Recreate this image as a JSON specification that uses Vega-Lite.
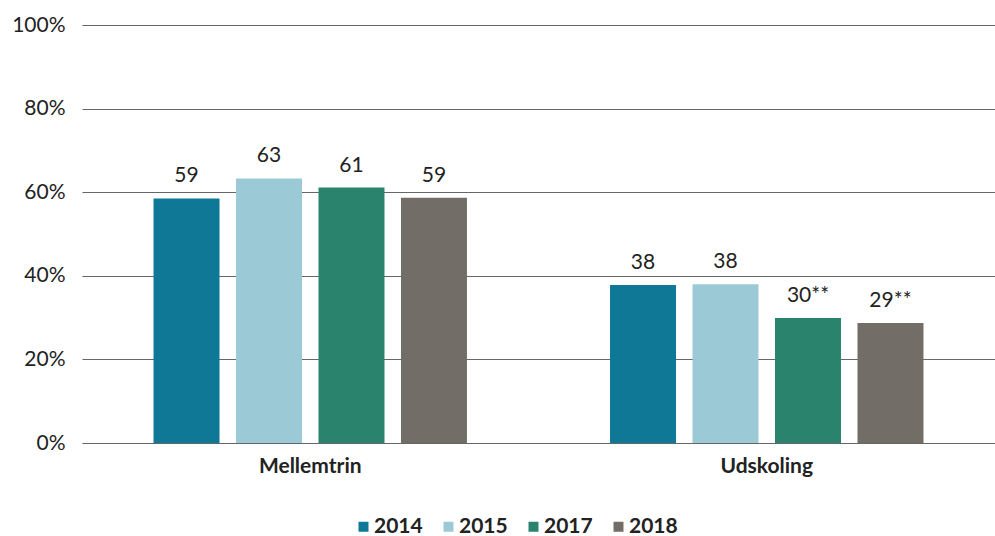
{
  "$schema": "https://vega.github.io/schema/vega-lite/v6.json",
  "width": 913,
  "height": 418,
  "autosize": {"type": "none"},
  "padding": {"left": 82, "top": 25, "right": 0, "bottom": 93},
  "background": "white",
  "config": {
    "font": "Lato",
    "view": {"stroke": null}
  },
  "data": {
    "values": [
      {"group": "Mellemtrin", "year": "2014", "value": 58.5, "label": "59"},
      {"group": "Mellemtrin", "year": "2015", "value": 63.3, "label": "63"},
      {"group": "Mellemtrin", "year": "2017", "value": 61.1, "label": "61"},
      {"group": "Mellemtrin", "year": "2018", "value": 58.7, "label": "59"},
      {"group": "Udskoling", "year": "2014", "value": 37.8, "label": "38"},
      {"group": "Udskoling", "year": "2015", "value": 38.0, "label": "38"},
      {"group": "Udskoling", "year": "2017", "value": 29.9, "label": "30**"},
      {"group": "Udskoling", "year": "2018", "value": 28.7, "label": "29**"}
    ]
  },
  "encoding": {
    "x": {
      "field": "group",
      "type": "nominal",
      "sort": ["Mellemtrin", "Udskoling"],
      "scale": {"paddingInner": 0.27, "paddingOuter": 0.135},
      "axis": {
        "title": null,
        "labelAngle": 0,
        "domain": false,
        "ticks": false,
        "labelFontSize": 21,
        "labelFontWeight": "bold",
        "labelColor": "#222222",
        "labelPadding": 12
      }
    },
    "xOffset": {
      "field": "year",
      "type": "nominal",
      "scale": {"paddingInner": 0.2, "paddingOuter": 0.12}
    },
    "y": {
      "field": "value",
      "type": "quantitative",
      "scale": {"domain": [0, 100]},
      "axis": {
        "title": null,
        "values": [0, 20, 40, 60, 80, 100],
        "labelExpr": "datum.value + '%'",
        "domain": false,
        "ticks": false,
        "gridColor": "#666666",
        "gridWidth": 1,
        "labelFontSize": 21,
        "labelColor": "#222222",
        "labelPadding": 17
      }
    }
  },
  "layer": [
    {
      "mark": {"type": "bar"},
      "encoding": {
        "color": {
          "field": "year",
          "type": "nominal",
          "scale": {
            "domain": ["2014", "2015", "2017", "2018"],
            "range": ["#0E7896", "#9BCAD6", "#2A836D", "#736D68"]
          },
          "legend": {
            "title": null,
            "orient": "none",
            "legendX": 271,
            "legendY": 491,
            "direction": "horizontal",
            "symbolType": "square",
            "symbolSize": 100,
            "symbolStrokeWidth": 0,
            "labelFontSize": 21,
            "labelFontWeight": "bold",
            "labelColor": "#222222",
            "labelOffset": 0,
            "columnPadding": 15
          }
        }
      }
    },
    {
      "mark": {"type": "text", "baseline": "alphabetic", "dy": -16, "fontSize": 21, "color": "#222222"},
      "encoding": {
        "text": {"field": "label"}
      }
    }
  ]
}
